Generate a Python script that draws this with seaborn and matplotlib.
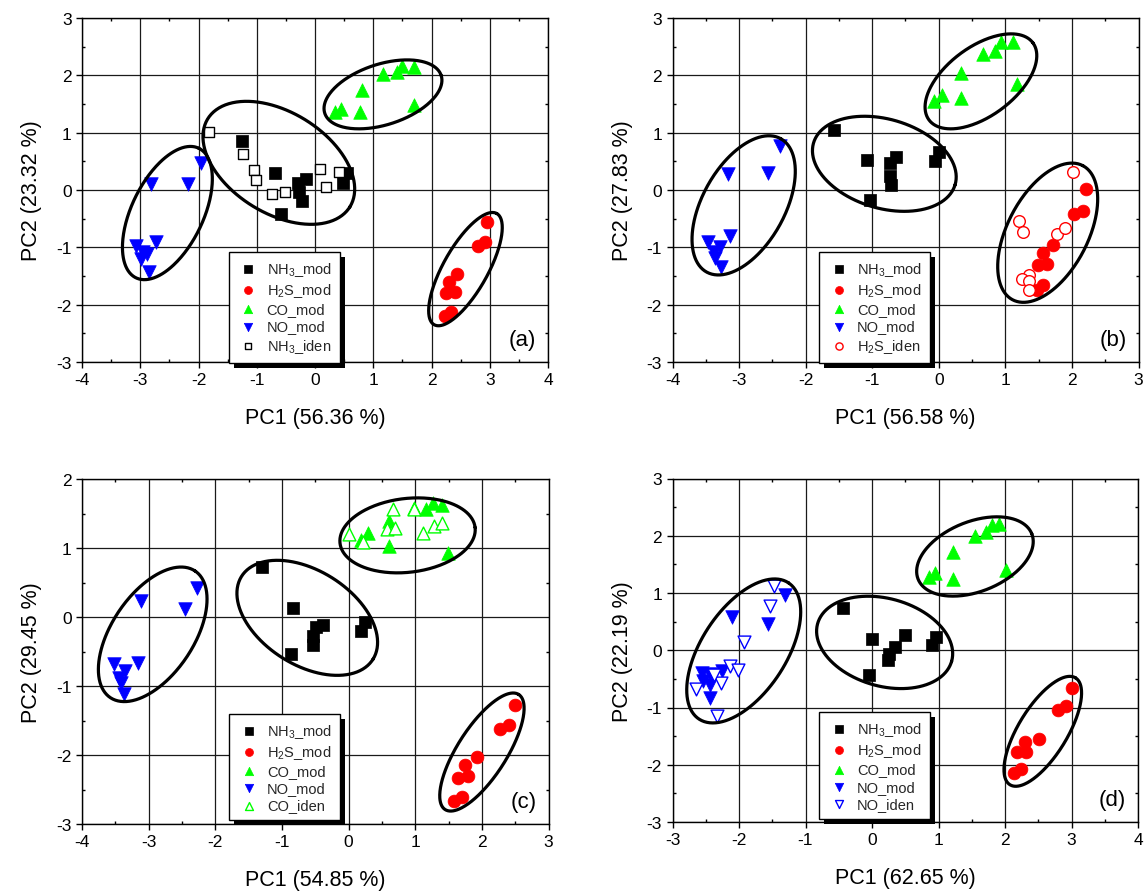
import numpy as np
import matplotlib
matplotlib.use("Agg")
import matplotlib.pyplot as plt
import seaborn as sns
from matplotlib.patches import Rectangle
from matplotlib.transforms import IdentityTransform

# ---------------- data: panel (a) ----------------
A_NH3_X = [-1.25, -0.69, -0.29, -0.15, -0.28, -0.23, -0.59, 0.48, 0.55]
A_NH3_Y = [0.85, 0.30, 0.13, 0.19, -0.04, -0.20, -0.41, 0.13, 0.30]
A_H2S_X = [2.96, 2.92, 2.80, 2.43, 2.30, 2.40, 2.25, 2.33, 2.23]
A_H2S_Y = [-0.55, -0.91, -0.97, -1.47, -1.60, -1.78, -1.80, -2.12, -2.19]
A_CO_X = [1.17, 1.40, 1.50, 1.70, 0.81, 0.45, 0.34, 0.78, 1.70]
A_CO_Y = [2.03, 2.05, 2.17, 2.15, 1.75, 1.41, 1.36, 1.36, 1.48]
A_NO_X = [-2.81, -2.18, -1.95, -3.08, -2.73, -2.95, -2.89, -2.98, -2.85]
A_NO_Y = [0.10, 0.10, 0.47, -0.97, -0.90, -1.09, -1.12, -1.20, -1.43]
A_IDEN_X = [-1.82, -1.24, -1.04, -1.02, -0.73, -0.52, 0.08, 0.19, 0.42]
A_IDEN_Y = [1.01, 0.62, 0.35, 0.17, -0.07, -0.04, 0.37, 0.05, 0.31]

# ---------------- data: panel (b) ----------------
B_NH3_X = [-1.57, -1.08, -0.64, -0.74, -0.74, -0.72, -1.04, 0.00, -0.06]
B_NH3_Y = [1.05, 0.53, 0.58, 0.47, 0.25, 0.09, -0.17, 0.67, 0.51]
B_H2S_X = [2.21, 2.16, 2.03, 1.71, 1.56, 1.63, 1.49, 1.57, 1.47]
B_H2S_Y = [0.02, -0.36, -0.42, -0.96, -1.10, -1.29, -1.31, -1.65, -1.74]
B_CO_X = [0.93, 1.12, 0.85, 0.66, 0.34, 1.17, 0.05, -0.07, 0.34]
B_CO_Y = [2.58, 2.58, 2.43, 2.37, 2.04, 1.85, 1.65, 1.56, 1.60]
B_NO_X = [-2.39, -3.17, -2.57, -3.47, -3.13, -3.28, -3.38, -3.36, -3.27]
B_NO_Y = [0.77, 0.28, 0.30, -0.90, -0.81, -1.00, -1.09, -1.18, -1.35]
B_IDEN_X = [2.01, 1.20, 1.27, 1.77, 1.89, 1.36, 1.25, 1.36, 1.35]
B_IDEN_Y = [0.31, -0.54, -0.74, -0.76, -0.66, -1.48, -1.55, -1.58, -1.75]

# ---------------- data: panel (c) ----------------
C_NH3_X = [-1.30, -0.83, -0.39, -0.49, -0.54, -0.53, -0.86, 0.25, 0.18]
C_NH3_Y = [0.72, 0.13, -0.11, -0.14, -0.27, -0.40, -0.54, -0.07, -0.20]
C_H2S_X = [2.49, 2.41, 2.27, 1.92, 1.75, 1.79, 1.64, 1.70, 1.58]
C_H2S_Y = [-1.27, -1.57, -1.62, -2.03, -2.15, -2.30, -2.34, -2.61, -2.66]
C_CO_X = [1.26, 1.40, 1.16, 0.975, 0.60, 0.295, 0.185, 0.61, 1.485]
C_CO_Y = [1.65, 1.63, 1.56, 1.58, 1.39, 1.22, 1.12, 1.03, 0.93]
C_NO_X = [-2.27, -3.11, -2.46, -3.52, -3.16, -3.35, -3.45, -3.41, -3.37]
C_NO_Y = [0.42, 0.23, 0.11, -0.68, -0.66, -0.78, -0.89, -0.95, -1.12]
C_IDEN_X = [0.66, 0.975, 0.575, 0.695, 0.00, 0.22, 1.11, 1.275, 1.40]
C_IDEN_Y = [1.56, 1.56, 1.28, 1.29, 1.20, 1.08, 1.22, 1.32, 1.36]

# ---------------- data: panel (d) ----------------
D_NH3_X = [-0.43, 0.00, 0.49, 0.34, 0.26, 0.24, -0.05, 0.96, 0.90]
D_NH3_Y = [0.73, 0.19, 0.26, 0.05, -0.06, -0.17, -0.43, 0.23, 0.10]
D_H2S_X = [3.00, 2.92, 2.79, 2.51, 2.30, 2.32, 2.18, 2.24, 2.13]
D_H2S_Y = [-0.66, -0.98, -1.04, -1.55, -1.61, -1.77, -1.77, -2.07, -2.14]
D_CO_X = [1.91, 1.81, 1.71, 1.55, 1.22, 0.95, 0.85, 1.22, 2.01]
D_CO_Y = [2.21, 2.19, 2.07, 1.99, 1.71, 1.35, 1.28, 1.24, 1.41]
D_NO_X = [-1.31, -2.11, -1.56, -2.56, -2.44, -2.26, -2.54, -2.44, -2.44]
D_NO_Y = [0.97, 0.58, 0.45, -0.40, -0.41, -0.37, -0.53, -0.61, -0.83]
D_IDEN_X = [-1.48, -1.53, -1.93, -2.14, -2.02, -2.27, -2.65, -2.33, -2.38]
D_IDEN_Y = [1.13, 0.77, 0.14, -0.27, -0.35, -0.57, -0.68, -1.15, -0.44]

# ---------------- labels ----------------
MOD_LABELS = ["NH$_3$_mod", "H$_2$S_mod", "CO_mod", "NO_mod"]
IDEN_LABELS = ["NH$_3$_iden", "H$_2$S_iden", "CO_iden", "NO_iden"]
PANEL_TAGS = ["(a)", "(b)", "(c)", "(d)"]
XLABELS = ["PC1 (56.36 %)", "PC1 (56.58 %)", "PC1 (54.85 %)", "PC1 (62.65 %)"]
YLABELS = ["PC2 (23.32 %)", "PC2 (27.83 %)", "PC2 (29.45 %)", "PC2 (22.19 %)"]
XLIMS = [(-4, 4), (-4, 3), (-4, 3), (-3, 4)]
YLIMS = [(-3, 3), (-3, 3), (-3, 2), (-3, 3)]

# cluster ellipses: center (data), semi-axes (pixels), screen angle (deg)
ELLIPSES = [
    [(-2.534, -0.402, 72.0, 35.7, 64.1), (-0.621, 0.474, 83.6, 50.5, -31.8),
     (1.167, 1.668, 61.2, 30.3, 18.0), (2.583, -1.380, 63.8, 22.2, 60.6)],
    [(-2.931, -0.268, 76.3, 41.1, 60.9), (-0.818, 0.457, 73.8, 44.5, -16.5),
     (0.633, 1.895, 64.7, 34.5, 36.6), (1.636, -0.745, 75.7, 40.2, 62.4)],
    [(-2.939, -0.251, 76.2, 40.9, 56.2), (-0.620, -0.012, 77.7, 47.1, -32.3),
     (0.885, 1.183, 68.0, 36.9, 6.7), (2.001, -1.957, 68.3, 24.5, 57.4)],
    [(-1.929, -0.012, 81.5, 42.3, 56.75), (0.190, 0.137, 69.6, 43.8, -15.7),
     (1.548, 1.638, 61.2, 35.0, 21.8), (2.568, -1.416, 62.7, 24.4, 58.5)],
]

MOD_COLORS = ["#000000", "#FF0000", "#00FF00", "#0000FF"]
MOD_MARKERS = ["s", "o", "^", "v"]
MOD_SIZES = [72, 85, 95, 95]
IDEN_MARKERS = ["s", "o", "^", "v"]
IDEN_COLORS = ["#000000", "#FF0000", "#00FF00", "#0000FF"]
IDEN_SIZES = [62, 70, 85, 85]

PANELS = [
    ([(A_NH3_X, A_NH3_Y), (A_H2S_X, A_H2S_Y), (A_CO_X, A_CO_Y), (A_NO_X, A_NO_Y)], (A_IDEN_X, A_IDEN_Y), 0),
    ([(B_NH3_X, B_NH3_Y), (B_H2S_X, B_H2S_Y), (B_CO_X, B_CO_Y), (B_NO_X, B_NO_Y)], (B_IDEN_X, B_IDEN_Y), 1),
    ([(C_NH3_X, C_NH3_Y), (C_H2S_X, C_H2S_Y), (C_CO_X, C_CO_Y), (C_NO_X, C_NO_Y)], (C_IDEN_X, C_IDEN_Y), 2),
    ([(D_NH3_X, D_NH3_Y), (D_H2S_X, D_H2S_Y), (D_CO_X, D_CO_Y), (D_NO_X, D_NO_Y)], (D_IDEN_X, D_IDEN_Y), 3),
]

sns.set_theme(style="white")
plt.rcParams["font.family"] = ["Liberation Sans", "DejaVu Sans"]
plt.rcParams["mathtext.fontset"] = "custom"
plt.rcParams["mathtext.rm"] = "Liberation Sans"
plt.rcParams["mathtext.it"] = "Liberation Sans:italic"
plt.rcParams["mathtext.default"] = "regular"
plt.rcParams["axes.unicode_minus"] = False

W, H = 1147, 895
fig = plt.figure(figsize=(W / 100, H / 100), dpi=100)
fig.patch.set_facecolor("white")

# axes boxes in pixels: left, top, right, bottom
BOXES = [(82, 19, 548, 363), (672.5, 19, 1138.5, 363),
         (82, 480, 548.5, 825), (672.5, 479.5, 1138, 823)]

axes = []
for (l, t, r, b) in BOXES:
    ax = fig.add_axes([l / W, 1 - b / H, (r - l) / W, (b - t) / H])
    axes.append(ax)

legends = []
for ax, (mods, iden, k) in zip(axes, PANELS):
    ax.set_facecolor("white")
    for (xs, ys), lab, col, mk, sz in zip(mods, MOD_LABELS, MOD_COLORS, MOD_MARKERS, MOD_SIZES):
        sns.scatterplot(x=xs, y=ys, ax=ax, marker=mk, s=sz, color=col,
                        edgecolor=col, linewidth=0.5, label=lab, zorder=3, legend=False)
    ix, iy = iden
    sns.scatterplot(x=ix, y=iy, ax=ax, marker=IDEN_MARKERS[k], s=IDEN_SIZES[k],
                    color="white", edgecolor=IDEN_COLORS[k], linewidth=1.0,
                    label=IDEN_LABELS[k], zorder=4, legend=False)

    ax.set_xlim(*XLIMS[k])
    ax.set_ylim(*YLIMS[k])
    ax.set_xticks(np.arange(XLIMS[k][0], XLIMS[k][1] + 1))
    ax.set_yticks(np.arange(YLIMS[k][0], YLIMS[k][1] + 1))
    ax.set_xticks(np.arange(XLIMS[k][0] + 0.5, XLIMS[k][1], 1.0), minor=True)
    ax.set_yticks(np.arange(YLIMS[k][0] + 0.5, YLIMS[k][1], 1.0), minor=True)
    ax.grid(True, which="major", color="#1a1a1a", linewidth=0.9, zorder=0)
    ax.set_axisbelow(True)
    for sp in ax.spines.values():
        sp.set_color("black")
        sp.set_linewidth(1.0)
        sp.set_visible(True)
    ax.tick_params(which="major", direction="out", length=4.5, width=1.0,
                   colors="black", labelsize=12.5, pad=3,
                   bottom=True, left=True, top=False, right=False)
    ax.tick_params(which="minor", direction="in", length=2.5, width=1.0,
                   colors="black", bottom=True, left=True, top=True, right=True)
    ax.set_xlabel(XLABELS[k], fontsize=15.5, labelpad=14, color="black")
    ax.set_ylabel(YLABELS[k], fontsize=15.5, labelpad=10, color="black")

    # ellipses (cluster outlines) drawn in screen-proportional units
    sx = ax.bbox.width / (XLIMS[k][1] - XLIMS[k][0])
    sy = ax.bbox.height / (YLIMS[k][1] - YLIMS[k][0])
    t = np.linspace(0, 2 * np.pi, 300)
    for (cx, cy, a_px, b_px, ang) in ELLIPSES[k]:
        th = np.deg2rad(ang)
        u = a_px * np.cos(t)
        v = b_px * np.sin(t)
        dx = u * np.cos(th) - v * np.sin(th)
        dy = u * np.sin(th) + v * np.cos(th)
        ax.plot(cx + dx / sx, cy + dy / sy, color="black", linewidth=2.3, zorder=5)

    ax.text(0.975, 0.035, PANEL_TAGS[k], transform=ax.transAxes, ha="right",
            va="bottom", fontsize=16, color="black")

    leg = ax.legend(loc="upper left", bbox_to_anchor=(0.315, 0.32), borderaxespad=0,
                    fontsize=10.5, markerscale=0.62, frameon=True, fancybox=False,
                    framealpha=1, edgecolor="black", borderpad=0.55,
                    labelspacing=0.22, handlelength=1.6, handletextpad=0.45,
                    scatterpoints=1)
    leg.get_frame().set_linewidth(1.0)
    leg.set_zorder(10)
    legends.append((ax, leg))

fig.canvas.draw()
renderer = fig.canvas.get_renderer()
for ax, leg in legends:
    bb = leg.get_window_extent(renderer)
    shadow = Rectangle((bb.x0 + 5, bb.y0 - 5), bb.width, bb.height,
                       transform=IdentityTransform(), facecolor="black",
                       edgecolor="none", zorder=9.5, clip_on=False)
    ax.add_artist(shadow)

fig.savefig("out.png", dpi=100, facecolor="white")
